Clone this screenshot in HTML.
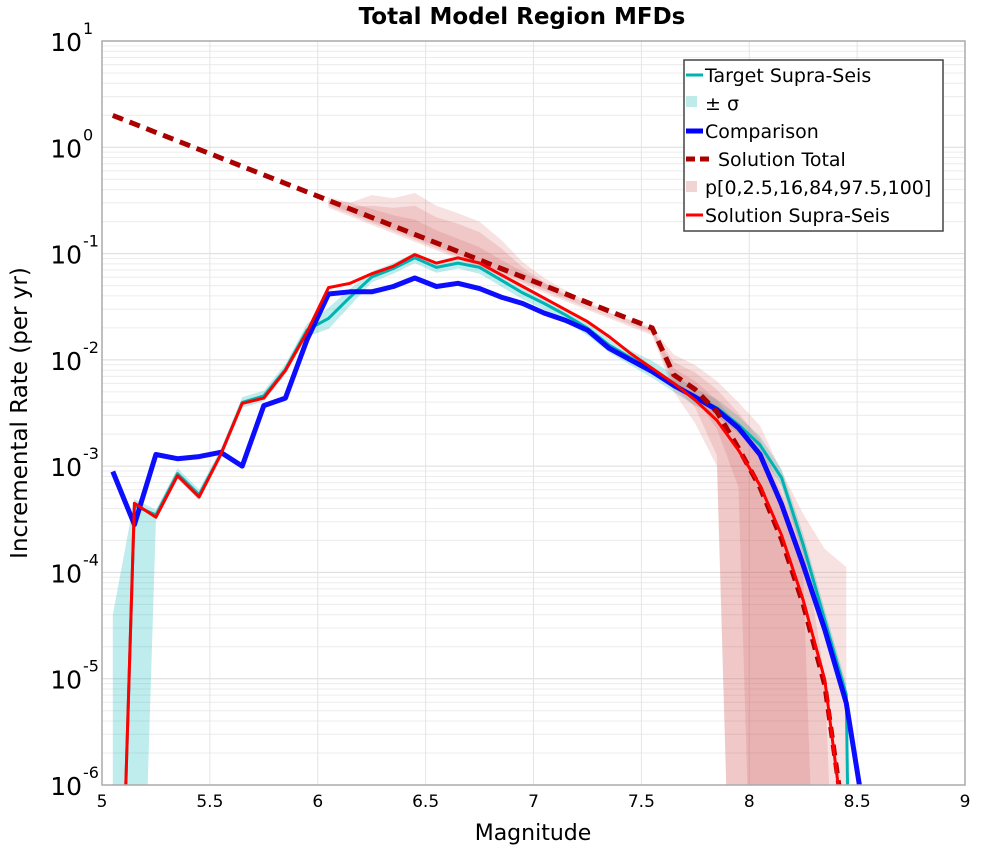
<!DOCTYPE html>
<html><head><meta charset="utf-8"><style>
html,body{margin:0;padding:0;background:#fff;overflow:hidden;width:1000px;height:850px;}
svg{display:block;}
svg text{font-family:"DejaVu Sans","Liberation Sans",sans-serif;}
</style></head><body>
<svg id="chart" width="1000" height="850" viewBox="0 0 1000 850" xmlns="http://www.w3.org/2000/svg">
<rect x="0" y="0" width="1000" height="850" fill="#fff"/>
<g id="grid"></g>
<g id="bands"></g>
<g id="lines"></g>
<rect x="102" y="41" width="863" height="744" fill="none" stroke="#aaa" stroke-width="1.5"/>
<g id="ticks"></g>
<text x="522" y="24" text-anchor="middle" font-size="23" font-weight="bold">Total Model Region MFDs</text>
<text x="533" y="840" text-anchor="middle" font-size="22">Magnitude</text>
<text transform="translate(27,413) rotate(-90)" text-anchor="middle" font-size="23">Incremental Rate (per yr)</text>
<g>
<rect x="684" y="60" width="259" height="171" fill="#fff" stroke="#444" stroke-width="1.5"/>
<line x1="686" y1="75" x2="703" y2="75" stroke="#00b3b3" stroke-width="3"/>
<text x="705" y="82" font-size="19">Target Supra-Seis</text>
<rect x="686" y="96" width="11" height="11" fill="#bfeaea"/>
<text x="705" y="110" font-size="19">± σ</text>
<line x1="686" y1="131" x2="703" y2="131" stroke="#0000ff" stroke-width="5"/>
<text x="705" y="138" font-size="19">Comparison</text>
<line x1="686" y1="159" x2="712" y2="159" stroke="#aa0000" stroke-width="5" stroke-dasharray="9,5"/>
<text x="718" y="166" font-size="19">Solution Total</text>
<rect x="686" y="181" width="11" height="11" fill="#f2d3d3"/>
<text x="705" y="194" font-size="19">p[0,2.5,16,84,97.5,100]</text>
<line x1="686" y1="215" x2="703" y2="215" stroke="#ff0000" stroke-width="3"/>
<text x="705" y="222" font-size="19">Solution Supra-Seis</text>
</g>
</svg>
<script>
const mags = [5.05,5.15,5.25,5.35,5.45,5.55,5.65,5.75,5.85,5.95,6.05,6.15,6.25,6.35,6.45,6.55,6.65,6.75,6.85,6.95,7.05,7.15,7.25,7.35,7.45,7.55,7.65,7.75,7.85,7.95,8.05,8.15,8.25,8.35,8.45,8.55];
const comparison = [-3.05,-3.55,-2.89,-2.93,-2.91,-2.87,-3.0,-2.43,-2.36,-1.81,-1.38,-1.36,-1.36,-1.31,-1.23,-1.31,-1.28,-1.33,-1.41,-1.47,-1.56,-1.63,-1.72,-1.89,-2.0,-2.11,-2.24,-2.35,-2.47,-2.64,-2.89,-3.36,-3.93,-4.54,-5.23,-6.5];
const solutionSupra = [-10,-3.35,-3.48,-3.09,-3.29,-2.89,-2.41,-2.36,-2.10,-1.74,-1.32,-1.28,-1.19,-1.12,-1.01,-1.09,-1.04,-1.09,-1.20,-1.31,-1.42,-1.53,-1.64,-1.78,-1.94,-2.08,-2.22,-2.38,-2.57,-2.85,-3.18,-3.65,-4.26,-5.01,-6.6,-10];
const target = [-10,-3.37,-3.46,-3.07,-3.27,-2.89,-2.40,-2.34,-2.09,-1.72,-1.61,-1.41,-1.22,-1.14,-1.04,-1.13,-1.09,-1.13,-1.25,-1.37,-1.47,-1.58,-1.70,-1.86,-1.98,-2.09,-2.22,-2.35,-2.45,-2.61,-2.80,-3.11,-3.74,-4.45,-5.15,-20];
const sigmaHi = [-4.4,-3.31,-3.41,-3.02,-3.22,-2.84,-2.35,-2.29,-2.04,-1.66,-1.51,-1.33,-1.17,-1.09,-0.99,-1.08,-1.04,-1.07,-1.19,-1.31,-1.41,-1.52,-1.63,-1.79,-1.91,-2.01,-2.14,-2.27,-2.37,-2.53,-2.72,-3.03,-3.64,-4.35,-5.05,-20];
const sigmaLo = [-10,-10,-3.51,-3.12,-3.32,-2.94,-2.45,-2.39,-2.14,-1.78,-1.71,-1.49,-1.27,-1.19,-1.09,-1.18,-1.14,-1.19,-1.31,-1.43,-1.53,-1.64,-1.77,-1.93,-2.05,-2.17,-2.30,-2.43,-2.53,-2.69,-2.88,-3.19,-3.84,-4.55,-5.25,-20];
const totalMags = [5.05,5.15,5.25,5.35,5.45,5.55,5.65,5.75,5.85,5.95,6.05,6.15,6.25,6.35,6.45,6.55,6.65,6.75,6.85,6.95,7.05,7.15,7.25,7.35,7.45,7.55,7.65,7.75,7.85,7.95,8.05,8.15,8.25,8.35,8.45];
const solutionTotal = [0.30,0.22,0.14,0.06,-0.02,-0.10,-0.18,-0.26,-0.34,-0.42,-0.50,-0.58,-0.66,-0.74,-0.82,-0.90,-0.98,-1.06,-1.14,-1.22,-1.30,-1.38,-1.46,-1.54,-1.62,-1.70,-2.14,-2.28,-2.49,-2.83,-3.20,-3.69,-4.30,-5.06,-6.5];
const pMags = [6.05,6.15,6.25,6.35,6.45,6.55,6.65,6.75,6.85,6.95,7.05,7.15,7.25,7.35,7.45,7.55,7.65,7.75,7.85,7.95,8.05,8.15,8.25,8.35,8.45];
const p100 = [-0.50,-0.52,-0.45,-0.48,-0.43,-0.55,-0.62,-0.70,-0.87,-1.08,-1.23,-1.35,-1.45,-1.55,-1.62,-1.70,-1.95,-2.05,-2.20,-2.40,-2.62,-3.05,-3.45,-3.78,-3.95];
const p97 = [-0.50,-0.56,-0.55,-0.57,-0.55,-0.66,-0.72,-0.80,-0.95,-1.13,-1.27,-1.40,-1.50,-1.58,-1.65,-1.72,-2.02,-2.12,-2.28,-2.50,-2.75,-3.25,-3.70,-5.0,-10];
const p84 = [-0.47,-0.52,-0.58,-0.64,-0.68,-0.78,-0.86,-0.94,-1.06,-1.17,-1.28,-1.38,-1.47,-1.56,-1.63,-1.71,-2.08,-2.20,-2.38,-2.62,-2.92,-3.40,-4.0,-10,-10];
const p16 = [-0.53,-0.61,-0.69,-0.77,-0.85,-0.93,-1.01,-1.09,-1.17,-1.25,-1.33,-1.41,-1.49,-1.57,-1.65,-1.73,-2.20,-2.36,-2.65,-3.2,-10,-10,-10,-10,-10];
const p2 = [-0.55,-0.63,-0.71,-0.79,-0.87,-0.95,-1.03,-1.11,-1.19,-1.27,-1.35,-1.43,-1.51,-1.59,-1.67,-1.75,-2.25,-2.45,-2.9,-10,-10,-10,-10,-10,-10];
const p0 = [-0.57,-0.65,-0.73,-0.81,-0.89,-0.97,-1.05,-1.13,-1.21,-1.29,-1.37,-1.45,-1.53,-1.61,-1.69,-1.77,-2.30,-2.60,-3.0,-10,-10,-10,-10,-10,-10];
const xTicks = ["5","5.5","6","6.5","7","7.5","8","8.5","9"];
const yExps = ["1","0","-1","-2","-3","-4","-5","-6"];

const NS="http://www.w3.org/2000/svg";
const X0=102,X1=965,Y0=41,Y1=785,MMIN=5,MMAX=9,LMAX=1,LMIN=-6;
function xs(m){return X0+(m-MMIN)/(MMAX-MMIN)*(X1-X0);}
function ys(l){return Y0+(LMAX-l)/(LMAX-LMIN)*(Y1-Y0);}
function mk(tag,attrs,parent){const e=document.createElementNS(NS,tag);for(const k in attrs)e.setAttribute(k,attrs[k]);parent.appendChild(e);return e;}
const svg=document.getElementById('chart');
const defs=mk('defs',{},svg);
const cp=mk('clipPath',{id:'clip'},defs);
mk('rect',{x:X0,y:Y0,width:X1-X0,height:Y1-Y0},cp);
const grid=document.getElementById('grid'),bands=document.getElementById('bands'),lines=document.getElementById('lines'),ticks=document.getElementById('ticks');
bands.setAttribute('clip-path','url(#clip)');lines.setAttribute('clip-path','url(#clip)');
for(let d=LMIN;d<LMAX;d++){for(let k=1;k<10;k++){const y=ys(d+Math.log10(k));
const g=mk('line',{x1:X0,x2:X1,y1:y,y2:y,stroke:k==1?'#dcdcdc':'#ececec','stroke-width':1},grid);

}}
xTicks.forEach(t=>{const x=xs(parseFloat(t));
const g=mk('line',{x1:x,x2:x,y1:Y0,y2:Y1,stroke:'#e4e4e4','stroke-width':1},grid);


const tx=mk('text',{x:x,y:Y1+22,'text-anchor':'middle','font-size':17},ticks);tx.textContent=t;

});
yExps.forEach(e=>{const y=ys(parseFloat(e));
const tx=mk('text',{x:82,y:y+10,'text-anchor':'end','font-size':25},ticks);tx.textContent='10';


const sp=mk('text',{x:83,y:y-7,'text-anchor':'start','font-size':16},ticks);sp.textContent=e;

});
function bandPath(ms,hi,lo){let d='';ms.forEach((m,i)=>{d+=(i?'L':'M')+xs(m).toFixed(1)+','+ys(hi[i]).toFixed(1);});
for(let i=ms.length-1;i>=0;i--)d+='L'+xs(ms[i]).toFixed(1)+','+ys(lo[i]).toFixed(1);return d+'Z';}
function linePath(ms,v){return ms.map((m,i)=>(i?'L':'M')+xs(m).toFixed(1)+','+ys(v[i]).toFixed(1)).join('');}
const sb=mk('path',{d:bandPath(mags,sigmaHi,sigmaLo),fill:'#00b3b3','fill-opacity':0.25},bands);


[[p0,p100,'percentile-band-0-100'],[p2,p97,'percentile-band-2.5-97.5'],[p16,p84,'percentile-band-16-84']].forEach(b=>{
const p=mk('path',{d:bandPath(pMags,b[1],b[0]),fill:'#d05050','fill-opacity':0.17},bands);

});
const lt=mk('path',{d:linePath(mags,target),fill:'none',stroke:'#00b3b3','stroke-width':3,'stroke-linejoin':'round'},lines);


const lc=mk('path',{d:linePath(mags,comparison),fill:'none',stroke:'#0000ff','stroke-width':5,'stroke-linejoin':'round','stroke-opacity':0.95},lines);


const ld=mk('path',{d:linePath(totalMags,solutionTotal),fill:'none',stroke:'#aa0000','stroke-width':5,'stroke-dasharray':'11,7'},lines);


const ls=mk('path',{d:linePath(mags,solutionSupra),fill:'none',stroke:'#ff0000','stroke-width':3,'stroke-linejoin':'round'},lines);


</script>
</body></html>
